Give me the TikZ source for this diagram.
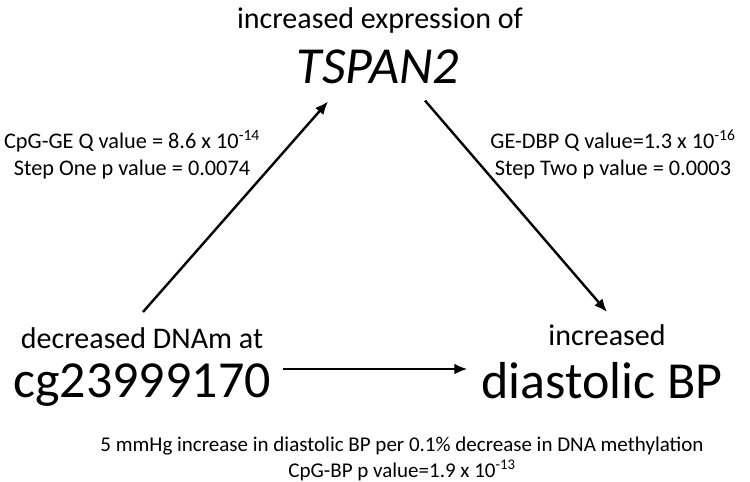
\documentclass[tikz,border=0pt]{standalone}
\usepackage{fontspec}
\setmainfont{Carlito}
\usetikzlibrary{arrows.meta}

\tikzset{
  arr/.style={-{Latex[length=13pt,width=11pt]}, line width=2.4pt},
  big/.style={font=\fontsize{52}{60}\selectfont, inner sep=2pt, anchor=base},
  mid/.style={font=\fontsize{30}{36}\selectfont, inner sep=2pt, anchor=base},
  lab/.style={font=\fontsize{22.3}{27}\selectfont, align=center, anchor=base}
}

\begin{document}
\begin{tikzpicture}[x=1pt,y=-1pt]
  \useasboundingbox (0,0) rectangle (750,482);
  % mediator
  \node[mid] (expr) at (380,28) {increased expression of};
  \node[big, font=\fontsize{52}{60}\selectfont\itshape] (tspan) at (378,83) {TSPAN2};
  % exposure and outcome
  \node[mid] (dnam) at (142,348) {decreased DNAm at};
  \node[big] (cg) at (142,397) {cg23999170};
  \node[mid] (incr) at (607,345) {increased};
  \node[big] (dbp) at (602,398) {diastolic BP};
  % statistics (base = last line)
  \node[lab] (q1) at (132,175) {CpG-GE Q value = 8.6 x 10\textsuperscript{-14}\\Step One p value = 0.0074};
  \node[lab] (q2) at (613,175) {GE-DBP Q value=1.3 x 10\textsuperscript{-16}\\Step Two p value = 0.0003};
  \node[lab, font=\fontsize{21}{26}\selectfont] (eff) at (402,477) {5 mmHg increase in diastolic BP per 0.1\% decrease in DNA methylation\\CpG-BP p value=1.9 x 10\textsuperscript{-13}};
  % paths
  \draw[arr] ([xshift=1pt,yshift=13pt]dnam.north) -- ([xshift=-50pt,yshift=-16pt]tspan.south);
  \draw[arr] ([xshift=47pt,yshift=-15pt]tspan.south) -- ([yshift=10pt]incr.north);
  \draw[arr] ([xshift=10pt,yshift=28pt]cg.base east) -- ([xshift=-12pt,yshift=29pt]dbp.base west);
\end{tikzpicture}
\end{document}
